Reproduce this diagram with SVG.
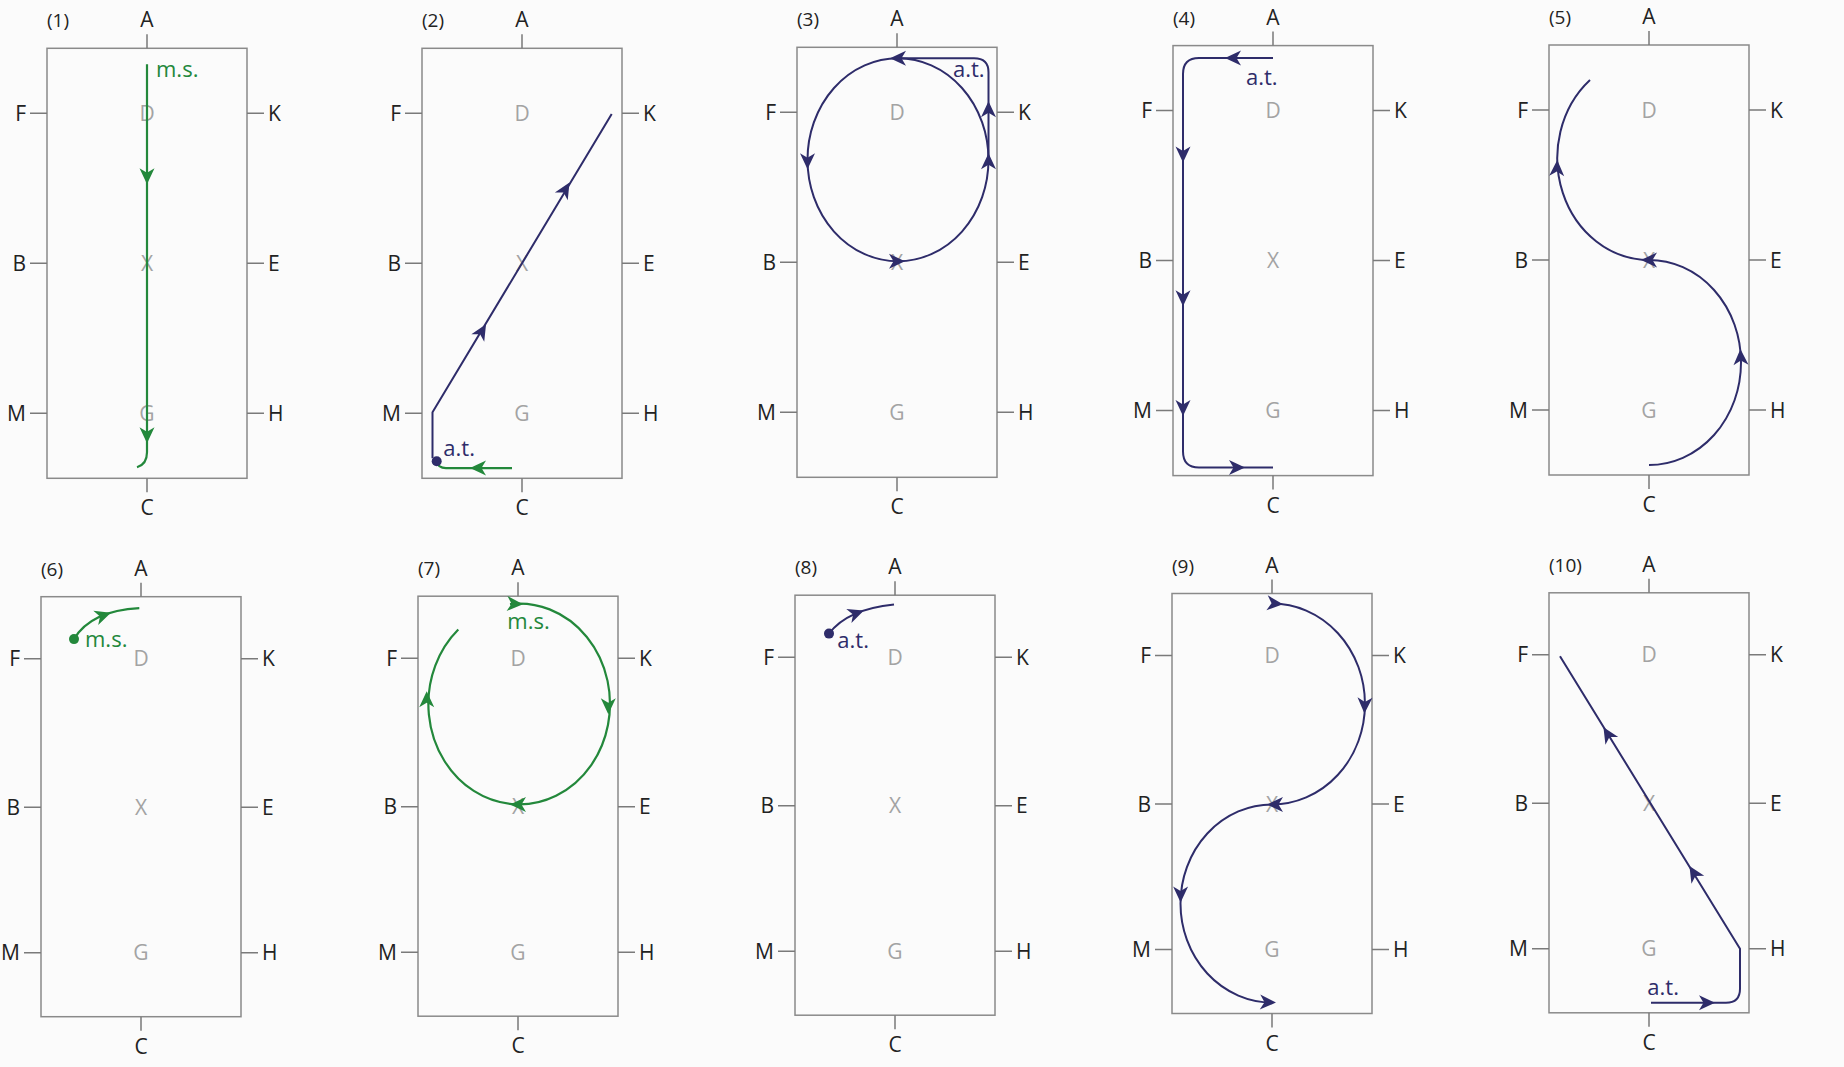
<svg xmlns="http://www.w3.org/2000/svg" xmlns:xlink="http://www.w3.org/1999/xlink" width="1844" height="1067" viewBox="0 0 1844 1067">
<style>
.frame{fill:none;stroke:#8a8a8a;stroke-width:1.5}
.tick{fill:none;stroke:#7a7a7a;stroke-width:1.5}
.lbl{font-family:"Open Sans","Liberation Sans",sans-serif;font-size:21px;fill:#222}
.num{font-size:19px}
.m{text-anchor:middle}
.e{text-anchor:end}
.in{fill:#a3a3a3}
.g{fill:none;stroke:#23883b;stroke-width:2.2}
.b{fill:none;stroke:#2e2c6a;stroke-width:2}
.ag{fill:#23883b}
.ab{fill:#2e2c6a}
.tg{font-family:"Open Sans","Liberation Sans",sans-serif;font-size:22px;fill:#23883b}
.tb{font-family:"Open Sans","Liberation Sans",sans-serif;font-size:22px;fill:#2e2c6a}
</style>
<defs>
<path id="ah" d="M2,0 L-14,-7.5 L-9.5,0 L-14,7.5 Z"/>
<g id="frameT"><rect class="frame" x="0" y="0" width="200" height="430"/><path class="tick" d="M100,-14V0M100,430V444M-17,65H0M-17,215H0M-17,365H0M200,65H217M200,215H217M200,365H217"/></g>
<g id="frameB"><rect class="frame" x="0" y="0" width="200" height="420"/><path class="tick" d="M100,-14V0M100,420V434M-17,62H0M-17,210.5H0M-17,356H0M200,62H217M200,210.5H217M200,356H217"/></g>
</defs>
<rect x="0" y="0" width="1844" height="1067" fill="#fbfbfb"/>

<!-- Panel 1 -->
<g id="panel-1" transform="translate(47,48.3)">
<use href="#frameT"/>
<text class="lbl num" x="0" y="-21">(1)</text>
<text class="lbl m" x="100" y="-21">A</text><text class="lbl m" x="100" y="467">C</text>
<text class="lbl e" x="-21" y="72.5">F</text><text class="lbl e" x="-21" y="222.5">B</text><text class="lbl e" x="-21" y="372.5">M</text>
<text class="lbl" x="221" y="72.5">K</text><text class="lbl" x="221" y="222.5">E</text><text class="lbl" x="221" y="372.5">H</text>
<text class="lbl m in" x="100" y="72.5">D</text><text class="lbl m in" x="100" y="222.5">X</text><text class="lbl m in" x="100" y="372.5">G</text>
<g id="p1-connectors">
<path class="g" d="M100,16 L100,404 Q100,416 90,419"/>
<use href="#ah" class="ag" transform="translate(100,134) rotate(90)"/>
<use href="#ah" class="ag" transform="translate(100,393) rotate(90)"/>
</g>
<text class="tg" x="109" y="29">m.s.</text>
</g>

<!-- Panel 2 -->
<g id="panel-2" transform="translate(422,48.3)">
<use href="#frameT"/>
<text class="lbl num" x="0" y="-21">(2)</text>
<text class="lbl m" x="100" y="-21">A</text><text class="lbl m" x="100" y="467">C</text>
<text class="lbl e" x="-21" y="72.5">F</text><text class="lbl e" x="-21" y="222.5">B</text><text class="lbl e" x="-21" y="372.5">M</text>
<text class="lbl" x="221" y="72.5">K</text><text class="lbl" x="221" y="222.5">E</text><text class="lbl" x="221" y="372.5">H</text>
<text class="lbl m in" x="100" y="72.5">D</text><text class="lbl m in" x="100" y="222.5">X</text><text class="lbl m in" x="100" y="372.5">G</text>
<g id="p2-connectors">
<path class="g" d="M90,419.8 L24,419.8 Q16,419.8 14.7,413"/>
<use href="#ah" class="ag" transform="translate(50,419.8) rotate(180)"/>
<path class="b" d="M10.5,410 L10.5,364 L189.7,65.6"/>
<circle cx="14.7" cy="413" r="5" fill="#2e2c6a"/>
<use href="#ah" class="ab" transform="translate(63,277.7) rotate(-59)"/>
<use href="#ah" class="ab" transform="translate(146.5,136) rotate(-59)"/>
</g>
<text class="tb" x="21.3" y="408">a.t.</text>
</g>

<!-- Panel 3 -->
<g id="panel-3" transform="translate(797,47.3)">
<use href="#frameT"/>
<text class="lbl num" x="0" y="-21">(3)</text>
<text class="lbl m" x="100" y="-21">A</text><text class="lbl m" x="100" y="467">C</text>
<text class="lbl e" x="-21" y="72.5">F</text><text class="lbl e" x="-21" y="222.5">B</text><text class="lbl e" x="-21" y="372.5">M</text>
<text class="lbl" x="221" y="72.5">K</text><text class="lbl" x="221" y="222.5">E</text><text class="lbl" x="221" y="372.5">H</text>
<text class="lbl m in" x="100" y="72.5">D</text><text class="lbl m in" x="100" y="222.5">X</text><text class="lbl m in" x="100" y="372.5">G</text>
<g id="p3-connectors">
<ellipse class="b" cx="101" cy="112.5" rx="90.5" ry="101.5"/>
<path class="b" d="M191.5,112 L191.5,25 Q191.5,11 177,11 L101,11"/>
<use href="#ah" class="ab" transform="translate(95,11) rotate(180)"/>
<use href="#ah" class="ab" transform="translate(191.5,56) rotate(-90)"/>
<use href="#ah" class="ab" transform="translate(191.5,108) rotate(-90)"/>
<use href="#ah" class="ab" transform="translate(10.5,120) rotate(90)"/>
<use href="#ah" class="ab" transform="translate(106,214) rotate(0)"/>
</g>
<text class="tb" x="156" y="30">a.t.</text>
</g>

<!-- Panel 4 -->
<g id="panel-4" transform="translate(1173,45.6)">
<use href="#frameT"/>
<text class="lbl num" x="0" y="-21">(4)</text>
<text class="lbl m" x="100" y="-21">A</text><text class="lbl m" x="100" y="467">C</text>
<text class="lbl e" x="-21" y="72.5">F</text><text class="lbl e" x="-21" y="222.5">B</text><text class="lbl e" x="-21" y="372.5">M</text>
<text class="lbl" x="221" y="72.5">K</text><text class="lbl" x="221" y="222.5">E</text><text class="lbl" x="221" y="372.5">H</text>
<text class="lbl m in" x="100" y="72.5">D</text><text class="lbl m in" x="100" y="222.5">X</text><text class="lbl m in" x="100" y="372.5">G</text>
<g id="p4-connectors">
<path class="b" d="M100,12.5 L26,12.5 Q10,12.5 10,28.5 L10,406 Q10,422 26,422 L100,422"/>
<use href="#ah" class="ab" transform="translate(54,12.5) rotate(180)"/>
<use href="#ah" class="ab" transform="translate(10,115) rotate(90)"/>
<use href="#ah" class="ab" transform="translate(10,258.6) rotate(90)"/>
<use href="#ah" class="ab" transform="translate(10,368.5) rotate(90)"/>
<use href="#ah" class="ab" transform="translate(70,422) rotate(0)"/>
</g>
<text class="tb" x="73" y="39">a.t.</text>
</g>

<!-- Panel 5 -->
<g id="panel-5" transform="translate(1549,45)">
<use href="#frameT"/>
<text class="lbl num" x="0" y="-21">(5)</text>
<text class="lbl m" x="100" y="-21">A</text><text class="lbl m" x="100" y="467">C</text>
<text class="lbl e" x="-21" y="72.5">F</text><text class="lbl e" x="-21" y="222.5">B</text><text class="lbl e" x="-21" y="372.5">M</text>
<text class="lbl" x="221" y="72.5">K</text><text class="lbl" x="221" y="222.5">E</text><text class="lbl" x="221" y="372.5">H</text>
<text class="lbl m in" x="100" y="72.5">D</text><text class="lbl m in" x="100" y="222.5">X</text><text class="lbl m in" x="100" y="372.5">G</text>
<g id="p5-connectors">
<path class="b" d="M100,420 A92,102.5 0 0 0 100,215 A92,102 0 0 1 41,35"/>
<use href="#ah" class="ab" transform="translate(191.5,306) rotate(-92)"/>
<use href="#ah" class="ab" transform="translate(8.2,117) rotate(-88)"/>
<use href="#ah" class="ab" transform="translate(94,215) rotate(180)"/>
</g>
</g>

<!-- Panel 6 -->
<g id="panel-6" transform="translate(41,596.7)">
<use href="#frameB"/>
<text class="lbl num" x="0" y="-21">(6)</text>
<text class="lbl m" x="100" y="-21">A</text><text class="lbl m" x="100" y="457">C</text>
<text class="lbl e" x="-21" y="69.5">F</text><text class="lbl e" x="-21" y="218">B</text><text class="lbl e" x="-21" y="363.5">M</text>
<text class="lbl" x="221" y="69.5">K</text><text class="lbl" x="221" y="218">E</text><text class="lbl" x="221" y="363.5">H</text>
<text class="lbl m in" x="100" y="69.5">D</text><text class="lbl m in" x="100" y="218">X</text><text class="lbl m in" x="100" y="363.5">G</text>
<g id="p6-connectors">
<path class="g" d="M33,42.4 Q50,14 98.3,11.5"/>
<circle cx="33" cy="42.4" r="5" fill="#23883b"/>
<use href="#ah" class="ag" transform="translate(68,16.6) rotate(-19)"/>
</g>
<text class="tg" x="44" y="50.6">m.s.</text>
</g>

<!-- Panel 7 -->
<g id="panel-7" transform="translate(418,596.2)">
<use href="#frameB"/>
<text class="lbl num" x="0" y="-21">(7)</text>
<text class="lbl m" x="100" y="-21">A</text><text class="lbl m" x="100" y="457">C</text>
<text class="lbl e" x="-21" y="69.5">F</text><text class="lbl e" x="-21" y="218">B</text><text class="lbl e" x="-21" y="363.5">M</text>
<text class="lbl" x="221" y="69.5">K</text><text class="lbl" x="221" y="218">E</text><text class="lbl" x="221" y="363.5">H</text>
<text class="lbl m in" x="100" y="69.5">D</text><text class="lbl m in" x="100" y="218">X</text><text class="lbl m in" x="100" y="363.5">G</text>
<g id="p7-connectors">
<path class="g" d="M92,7.9 A90.8,100.4 0 1 1 40.3,33.3"/>
<use href="#ah" class="ag" transform="translate(103,8) rotate(3)"/>
<use href="#ah" class="ag" transform="translate(190.3,116) rotate(90)"/>
<use href="#ah" class="ag" transform="translate(94,208.3) rotate(180)"/>
<use href="#ah" class="ag" transform="translate(8.7,97) rotate(-90)"/>
</g>
<text class="tg" x="89.3" y="33.3">m.s.</text>
</g>

<!-- Panel 8 -->
<g id="panel-8" transform="translate(795,595.2)">
<use href="#frameB"/>
<text class="lbl num" x="0" y="-21">(8)</text>
<text class="lbl m" x="100" y="-21">A</text><text class="lbl m" x="100" y="457">C</text>
<text class="lbl e" x="-21" y="69.5">F</text><text class="lbl e" x="-21" y="218">B</text><text class="lbl e" x="-21" y="363.5">M</text>
<text class="lbl" x="221" y="69.5">K</text><text class="lbl" x="221" y="218">E</text><text class="lbl" x="221" y="363.5">H</text>
<text class="lbl m in" x="100" y="69.5">D</text><text class="lbl m in" x="100" y="218">X</text><text class="lbl m in" x="100" y="363.5">G</text>
<g id="p8-connectors">
<path class="b" d="M34,38.4 Q52,14 99,9.2"/>
<circle cx="34" cy="38.4" r="5" fill="#2e2c6a"/>
<use href="#ah" class="ab" transform="translate(67,16) rotate(-20)"/>
</g>
<text class="tb" x="42.3" y="53">a.t.</text>
</g>

<!-- Panel 9 -->
<g id="panel-9" transform="translate(1172,593.5)">
<use href="#frameB"/>
<text class="lbl num" x="0" y="-21">(9)</text>
<text class="lbl m" x="100" y="-21">A</text><text class="lbl m" x="100" y="457">C</text>
<text class="lbl e" x="-21" y="69.5">F</text><text class="lbl e" x="-21" y="218">B</text><text class="lbl e" x="-21" y="363.5">M</text>
<text class="lbl" x="221" y="69.5">K</text><text class="lbl" x="221" y="218">E</text><text class="lbl" x="221" y="363.5">H</text>
<text class="lbl m in" x="100" y="69.5">D</text><text class="lbl m in" x="100" y="218">X</text><text class="lbl m in" x="100" y="363.5">G</text>
<g id="p9-connectors">
<path class="b" d="M100,10 A93,100.5 0 0 1 100,211 A91.5,99 0 0 0 100,409"/>
<use href="#ah" class="ab" transform="translate(109,10.5) rotate(5)"/>
<use href="#ah" class="ab" transform="translate(192.5,118) rotate(92)"/>
<use href="#ah" class="ab" transform="translate(97,211) rotate(180)"/>
<use href="#ah" class="ab" transform="translate(8.6,307) rotate(90)"/>
<use href="#ah" class="ab" transform="translate(102,409) rotate(2)"/>
</g>
</g>

<!-- Panel 10 -->
<g id="panel-10" transform="translate(1549,592.8)">
<use href="#frameB"/>
<text class="lbl num" x="0" y="-21">(10)</text>
<text class="lbl m" x="100" y="-21">A</text><text class="lbl m" x="100" y="457">C</text>
<text class="lbl e" x="-21" y="69.5">F</text><text class="lbl e" x="-21" y="218">B</text><text class="lbl e" x="-21" y="363.5">M</text>
<text class="lbl" x="221" y="69.5">K</text><text class="lbl" x="221" y="218">E</text><text class="lbl" x="221" y="363.5">H</text>
<text class="lbl m in" x="100" y="69.5">D</text><text class="lbl m in" x="100" y="218">X</text><text class="lbl m in" x="100" y="363.5">G</text>
<g id="p10-connectors">
<path class="b" d="M102,410 L177,410 Q191,410 191,396 L191,356 L11,63.4"/>
<use href="#ah" class="ab" transform="translate(164,410) rotate(0)"/>
<use href="#ah" class="ab" transform="translate(55.5,136.2) rotate(-121.6)"/>
<use href="#ah" class="ab" transform="translate(141.5,275) rotate(-121.6)"/>
</g>
<text class="tb" x="98.3" y="402">a.t.</text>
</g>
</svg>
